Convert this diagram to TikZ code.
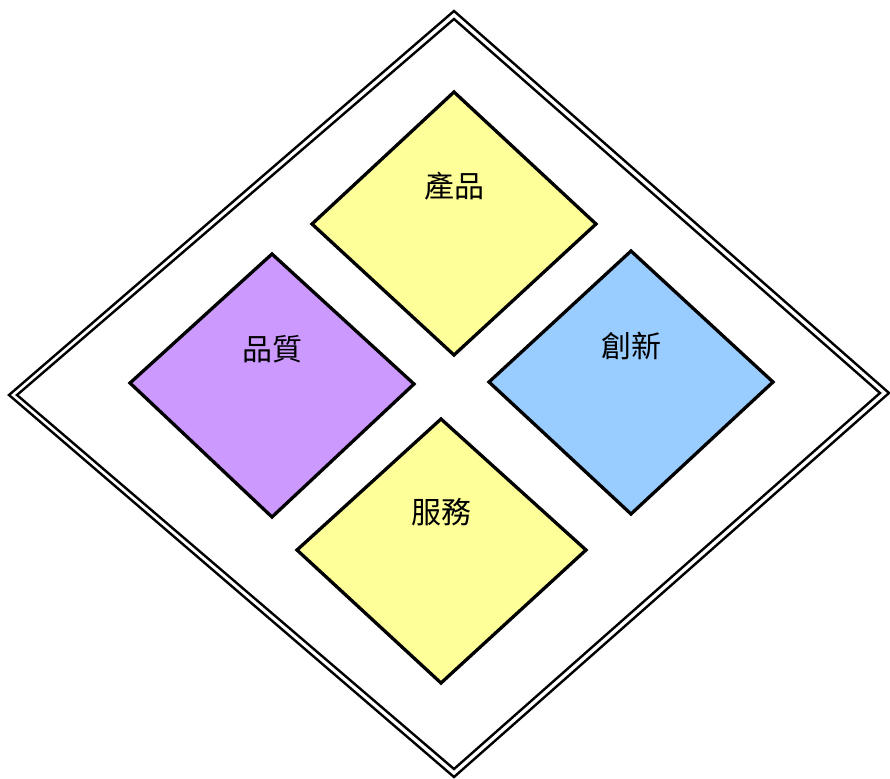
\documentclass[tikz,border=0pt]{standalone}
\usepackage{fontspec}
\newfontfamily\cjk{Noto Sans CJK TC}
\definecolor{cyellow}{HTML}{FFFF99}
\definecolor{cpurple}{HTML}{CC99FF}
\definecolor{cblue}{HTML}{99CCFF}
\begin{document}
\begin{tikzpicture}[x=1pt,y=-1pt,
  outerline/.style={draw=black,line width=2.4pt,line join=miter},
  dia/.style={draw=black,line width=3.3pt,line join=miter},
  lbl/.style={font=\cjk\fontsize{30}{32}\selectfont,inner sep=0pt}]
\useasboundingbox (0,0) rectangle (890,778);
% outer double diamond
\draw[outerline] (454,11) -- (889,393) -- (454,777) -- (9,395) -- cycle;
\draw[outerline] (454,19) -- (880,393) -- (454,769) -- (17,395) -- cycle;
% inner diamonds
\filldraw[dia,fill=cyellow] (454,92) -- (596,224) -- (454,355) -- (312,224) -- cycle;
\filldraw[dia,fill=cpurple] (272,254) -- (414,384) -- (272,517) -- (130,383) -- cycle;
\filldraw[dia,fill=cblue] (631,251) -- (773,382) -- (631,514) -- (489,382) -- cycle;
\filldraw[dia,fill=cyellow] (441,419) -- (586,550) -- (441,683) -- (297,550) -- cycle;
\node[lbl] (p) at (454,186) {產品};
\node[lbl] (q) at (272,349) {品質};
\node[lbl] (c) at (631,346) {創新};
\node[lbl] (s) at (441,512) {服務};
\end{tikzpicture}
\end{document}
